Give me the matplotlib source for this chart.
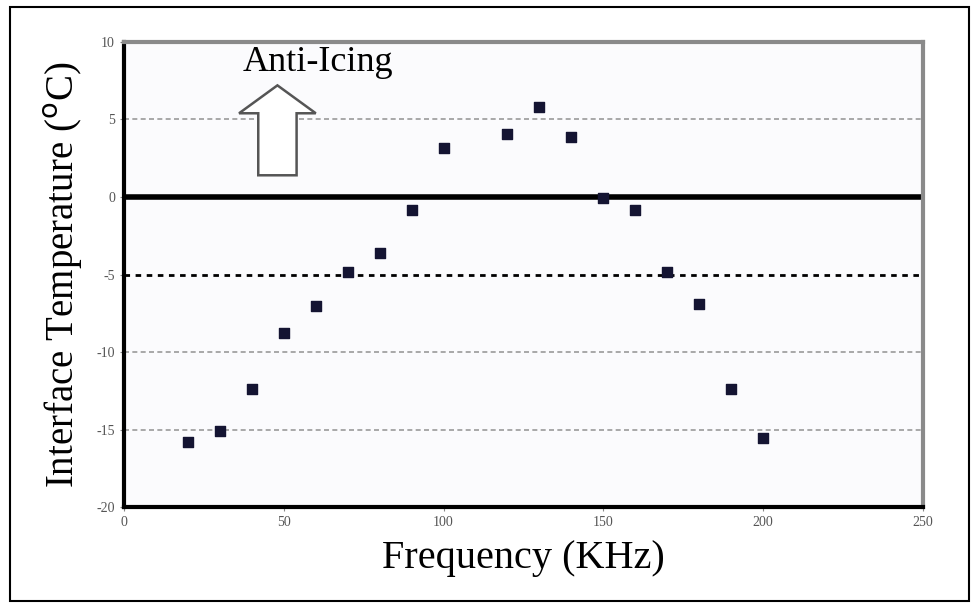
import matplotlib.pyplot as plt
from matplotlib.patches import FancyArrow, Rectangle

freq = [20, 30, 40, 50, 60, 70, 80, 90, 100, 120, 130, 140, 150, 160, 170, 180, 190, 200]
temp = [-15.8, -15.1, -12.4, -8.8, -7.0, -4.85, -3.6, -0.85, 3.15,
        4.05, 5.8, 3.9, -0.05, -0.85, -4.85, -6.9, -12.4, -15.55]

xticks = [0, 50, 100, 150, 200, 250]
yticks = [10, 5, 0, -5, -10, -15, -20]

plt.rcParams['font.family'] = ['Liberation Serif', 'DejaVu Serif']

fig = plt.figure(figsize=(9.79, 6.08), dpi=100)
ax = fig.add_axes([0.1267, 0.166, 0.816, 0.765])
ax.set_facecolor('#fbfbfd')

ax.set_xlim(0, 250)
ax.set_ylim(-20, 10)

# grid lines
for yv in [5, -10, -15]:
    ax.axhline(yv, color='#9a9a9a', linestyle=(0, (3, 2)), linewidth=1.2, zorder=1)
ax.axhline(-5, color='black', linestyle=(0, (2, 2)), linewidth=2, zorder=1)
ax.axhline(0, color='black', linewidth=4, zorder=1)

ax.scatter(freq, temp, marker='s', s=60, color='#141432', zorder=3)

ax.set_xticks(xticks)
ax.set_yticks(yticks)
ax.set_xticklabels([str(v) for v in xticks], fontsize=10, color='#555555')
ax.set_yticklabels([str(v) for v in yticks], fontsize=10, color='#555555')
ax.tick_params(length=3, color='#888888')

for s in ['left', 'bottom']:
    ax.spines[s].set_linewidth(3)
    ax.spines[s].set_color('black')
for s in ['top', 'right']:
    ax.spines[s].set_linewidth(3)
    ax.spines[s].set_color('#8a8a8a')

ax.set_xlabel('Frequency (KHz)', fontsize=29, labelpad=8)
ax.set_ylabel('Interface Temperature ($^{\\rm o}$C)', fontsize=28, labelpad=8)

ax.text(37, 8.7, 'Anti-Icing', fontsize=26, ha='left', va='center')

arrow = FancyArrow(48, 1.4, 0, 4.0, width=12, head_width=24, head_length=1.8,
                   length_includes_head=False, facecolor='white', edgecolor='#555555',
                   linewidth=1.8, zorder=2)
ax.add_patch(arrow)

fig.patches.append(Rectangle((0.01, 0.012), 0.98, 0.976, transform=fig.transFigure,
                             fill=False, edgecolor='black', linewidth=1.5))

fig.savefig('out.png', dpi=100)
